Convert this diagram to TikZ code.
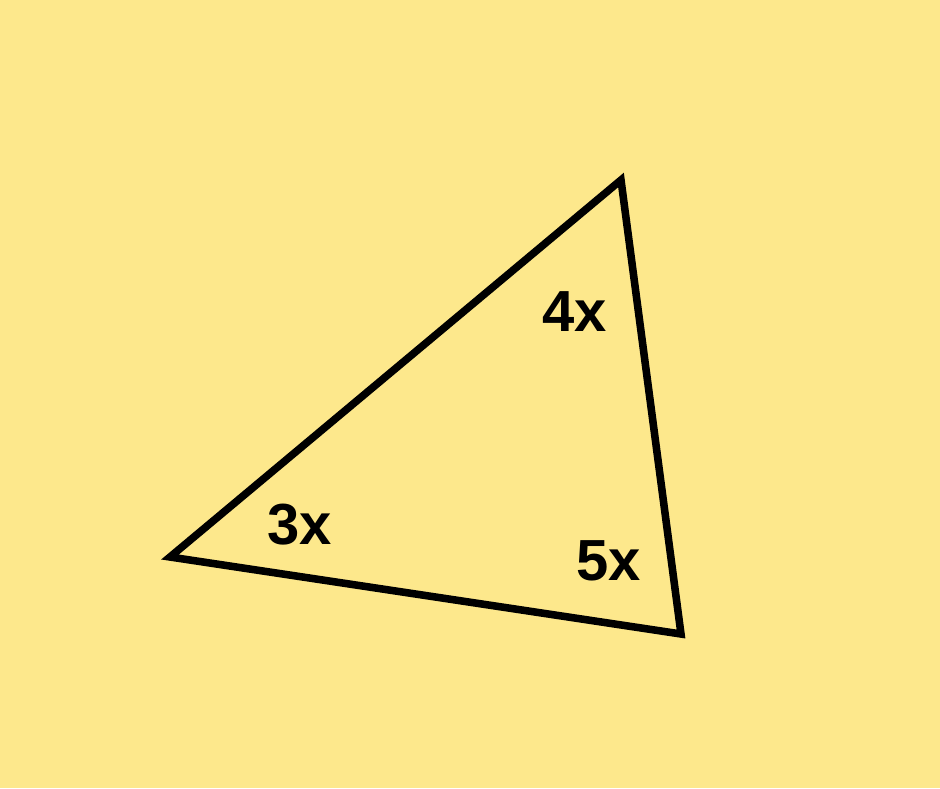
\documentclass[tikz,border=0pt]{standalone}
\usepackage{fontspec}
\setmainfont{Liberation Sans}
\definecolor{PaleYellow}{RGB}{253,232,140}
\usetikzlibrary{positioning}

\begin{document}
\begin{tikzpicture}[x=0.02cm,y=-0.02cm,
    side/.style={line width=4.3pt,line cap=butt,line join=miter},
    angletag/.style={font=\fontsize{33}{38}\selectfont\bfseries,inner sep=0pt}]
  %% Background, fixes the page size
  \fill[PaleYellow](0,0) rectangle (940,788);
  \useasboundingbox(0,0) rectangle (940,788);
  %% Corners of the triangle
  \coordinate (left) at (170,557);
  \coordinate (top) at (621,180);
  \coordinate (right) at (681,634);
  \draw[side](left)--(top)--(right)--cycle;
  %% Angle labels
  \node[angletag] (tagtop) at (575,312){4x};
  \node[angletag] (tagleft) at (300,525){3x};
  \node[angletag] (tagright) at (609,561){5x};
\end{tikzpicture}
\end{document}
